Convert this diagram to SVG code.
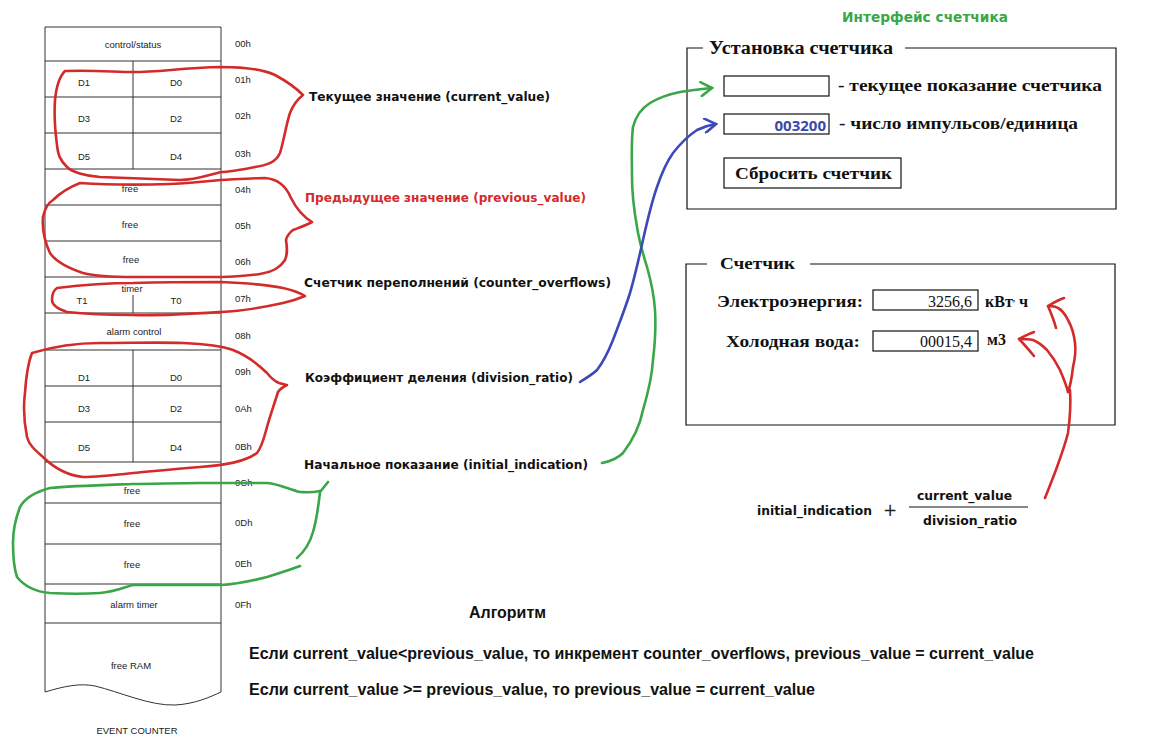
<svg xmlns="http://www.w3.org/2000/svg" width="1155" height="756" viewBox="0 0 1155 756">
<style>
.t{font-family:"Liberation Sans",Arial,sans-serif;font-size:9.5px;fill:#222}
.tc{text-anchor:middle}
.ln{stroke:#333;stroke-width:1;fill:none}
.lab{font-family:"DejaVu Sans","Open Sans",sans-serif;font-size:13px;font-weight:bold;fill:#111}
.ser{font-family:"Liberation Serif","Times New Roman",serif;font-size:16px;font-weight:bold;fill:#111}
.sern{font-family:"Liberation Serif","Times New Roman",serif;font-size:16px;fill:#111}
.box{fill:#fff;stroke:#111;stroke-width:1.2}
.alg{font-family:"Liberation Sans",Arial,sans-serif;font-size:16px;font-weight:bold;fill:#111}
.red{stroke:#d42a2a;stroke-width:2.6;fill:none;stroke-linecap:round;stroke-linejoin:round}
.grn{stroke:#3aa648;stroke-width:2.6;fill:none;stroke-linecap:round;stroke-linejoin:round}
.blu{stroke:#3f48b8;stroke-width:2.6;fill:none;stroke-linecap:round;stroke-linejoin:round}
</style>
<defs>
<marker id="ag" viewBox="0 0 16 16" refX="14" refY="8" markerWidth="16" markerHeight="16" markerUnits="userSpaceOnUse" orient="auto"><path d="M3,1 L14,8 L3,15" fill="none" stroke="#3aa648" stroke-width="2.6" stroke-linecap="round"/></marker>
<marker id="ab" viewBox="0 0 16 16" refX="14" refY="8" markerWidth="16" markerHeight="16" markerUnits="userSpaceOnUse" orient="auto"><path d="M3,1 L14,8 L3,15" fill="none" stroke="#3f48b8" stroke-width="2.6" stroke-linecap="round"/></marker>
</defs>
<rect width="1155" height="756" fill="#fff"/>

<g id="memory-map">
<path class="ln" d="M45,692 V27 H221 V692"/>
<path class="ln" d="M45,692 C65,686 80,683 95,686 C120,692 150,706 175,705 C195,704 210,697 221,692"/>
<path class="ln" d="M45,61 H221 M45,97 H221 M45,133 H221 M45,169 H221 M45,205 H221 M45,241 H221 M45,277 H221 M45,313 H221 M45,350 H221 M45,386 H221 M45,422 H221 M45,462 H221 M45,503 H221 M45,544 H221 M45,584 H221 M45,623 H221"/>
<path class="ln" d="M133,61 V169 M133,295 V313 M133,350 V462"/>
<text class="t tc" x="133" y="48">control/status</text>
<text class="t tc" x="84" y="86">D1</text><text class="t tc" x="176" y="86">D0</text>
<text class="t tc" x="84" y="122">D3</text><text class="t tc" x="176" y="122">D2</text>
<text class="t tc" x="84" y="160">D5</text><text class="t tc" x="176" y="160">D4</text>
<text class="t tc" x="130" y="192">free</text>
<text class="t tc" x="130" y="228">free</text>
<text class="t tc" x="131" y="263">free</text>
<text class="t tc" x="132" y="292">timer</text>
<text class="t tc" x="82" y="304">T1</text><text class="t tc" x="176" y="304">T0</text>
<text class="t tc" x="134" y="335">alarm control</text>
<text class="t tc" x="84" y="381">D1</text><text class="t tc" x="176" y="381">D0</text>
<text class="t tc" x="84" y="412">D3</text><text class="t tc" x="176" y="412">D2</text>
<text class="t tc" x="84" y="451">D5</text><text class="t tc" x="176" y="451">D4</text>
<text class="t tc" x="132" y="494">free</text>
<text class="t tc" x="132" y="527">free</text>
<text class="t tc" x="132" y="568">free</text>
<text class="t tc" x="134" y="608">alarm timer</text>
<text class="t tc" x="131" y="669">free RAM</text>
<text class="t tc" x="137" y="734">EVENT COUNTER</text>
<text class="t" x="235" y="47">00h</text>
<text class="t" x="235" y="83">01h</text>
<text class="t" x="235" y="119">02h</text>
<text class="t" x="235" y="157">03h</text>
<text class="t" x="235" y="193">04h</text>
<text class="t" x="235" y="229">05h</text>
<text class="t" x="235" y="265">06h</text>
<text class="t" x="235" y="302">07h</text>
<text class="t" x="235" y="339">08h</text>
<text class="t" x="235" y="375">09h</text>
<text class="t" x="235" y="412">0Ah</text>
<text class="t" x="235" y="450">0Bh</text>
<text class="t" x="235" y="486">0Ch</text>
<text class="t" x="235" y="526">0Dh</text>
<text class="t" x="235" y="567">0Eh</text>
<text class="t" x="235" y="608">0Fh</text>
</g>

<g id="field-labels">
<text id="lbl-current" class="lab" x="309" y="101" textLength="241" lengthAdjust="spacingAndGlyphs">Текущее значение (current_value)</text>
<text id="lbl-previous" class="lab" x="305" y="202" textLength="281" lengthAdjust="spacingAndGlyphs" style="fill:#d42a2a">Предыдущее значение (previous_value)</text>
<text id="lbl-overflows" class="lab" x="304" y="287" textLength="307" lengthAdjust="spacingAndGlyphs">Счетчик переполнений (counter_overflows)</text>
<text id="lbl-ratio" class="lab" x="305" y="382" textLength="268" lengthAdjust="spacingAndGlyphs">Коэффициент деления (division_ratio)</text>
<text id="lbl-initial" class="lab" x="304" y="469" textLength="284" lengthAdjust="spacingAndGlyphs">Начальное показание (initial_indication)</text>
</g>

<g id="title">
<text class="lab" x="842" y="22" textLength="166" lengthAdjust="spacingAndGlyphs" style="fill:#3aa648;font-size:14px">Интерфейс счетчика</text>
</g>

<g id="panel-setup">
<path d="M703,48 H687 V209 H1116 V48 H905" fill="none" stroke="#111" stroke-width="1.2"/>
<text class="ser" x="709" y="54" textLength="184" lengthAdjust="spacingAndGlyphs" style="font-size:18px">Установка счетчика</text>
<rect class="box" x="724" y="76" width="105" height="20"/>
<text class="ser" x="838" y="91" textLength="264" lengthAdjust="spacingAndGlyphs">- текущее показание  счетчика</text>
<rect class="box" x="724" y="114" width="105" height="20"/>
<text x="826" y="131" text-anchor="end" style="font-family:'Open Sans','Liberation Sans',sans-serif;font-size:15px;font-weight:bold;fill:#3a4aa8">003200</text>
<text class="ser" x="839" y="129" textLength="239" lengthAdjust="spacingAndGlyphs">- число импульсов/единица</text>
<rect class="box" x="724" y="158" width="177" height="30"/>
<text class="ser" x="735" y="179" textLength="157" lengthAdjust="spacingAndGlyphs">Сбросить  счетчик</text>
</g>

<g id="panel-counter">
<path d="M707,264 H686 V425 H1115 V264 H810" fill="none" stroke="#111" stroke-width="1.2"/>
<text class="ser" x="720" y="269" textLength="75" lengthAdjust="spacingAndGlyphs">Счетчик</text>
<text class="ser" x="717" y="307" textLength="146" lengthAdjust="spacingAndGlyphs">Электроэнергия:</text>
<rect class="box" x="873" y="290" width="105" height="20"/>
<text class="sern" x="972" y="307" text-anchor="end">3256,6</text>
<text class="ser" x="985" y="307">кВт<tspan font-size="9" dy="-6">,</tspan><tspan dy="6"> ч</tspan></text>
<text class="ser" x="726" y="347" textLength="134" lengthAdjust="spacingAndGlyphs">Холодная вода:</text>
<rect class="box" x="873" y="331" width="105" height="20"/>
<text class="sern" x="972" y="347" text-anchor="end">00015,4</text>
<text class="ser" x="987" y="345">м3</text>
</g>

<g id="formula">
<text class="lab" x="757" y="515" textLength="115" lengthAdjust="spacingAndGlyphs">initial_indication</text>
<text x="890" y="516" text-anchor="middle" style="font-family:'DejaVu Sans',sans-serif;font-size:17px;font-weight:normal;fill:#222">+</text>
<line x1="909" y1="507" x2="1028" y2="507" stroke="#111" stroke-width="1.2"/>
<text class="lab" x="917" y="500" textLength="95" lengthAdjust="spacingAndGlyphs">current_value</text>
<text class="lab" x="923" y="525" textLength="94" lengthAdjust="spacingAndGlyphs">division_ratio</text>
</g>

<g id="algorithm">
<text class="alg" x="469" y="618" textLength="77" lengthAdjust="spacingAndGlyphs">Алгоритм</text>
<text class="alg" x="249" y="659" textLength="785" lengthAdjust="spacingAndGlyphs">Если current_value&lt;previous_value, то инкремент counter_overflows, previous_value = current_value</text>
<text class="alg" x="249" y="695" textLength="566" lengthAdjust="spacingAndGlyphs">Если current_value &gt;= previous_value, то  previous_value = current_value</text>
</g>

<g id="connectors">
<path class="red" d="M65,71 C95,70 115,72 133,72 C160,72 180,68 221,67 C245,67 262,69 275,75 C288,82 298,90 303,95 C298,99 293,105 290,113 C286,125 284,140 280,153 C276,162 268,165 255,167 C240,170 230,172 221,172 C205,176 195,180 180,180 C150,179 120,178 100,177 C85,176 72,172 67,167 C60,160 58,155 57,145 C55,130 54,115 55,100 C56,90 58,78 65,71 Z"/>
<path class="red" d="M80,183 C110,185 140,185 170,184 C195,183 210,181 221,180 C240,179 255,178 265,178 C278,179 286,186 291,198 C296,208 302,216 312,222 C305,226 298,228 293,230 C289,233 287,236 286,240 C287,247 288,253 285,260 C280,268 273,272 260,274 C245,276 232,277 221,277 C190,277 160,277 133,277 C110,277 95,276 83,273 C68,268 56,262 50,253 C44,240 42,228 43,217 C45,208 48,203 53,200 C60,193 70,187 80,183 Z"/>
<path class="red" d="M57,288 C90,284 110,283 133,283 C170,282 200,282 221,282 C245,283 268,285 283,288 C292,290 300,293 305,296 C298,299 292,301 283,303 C265,307 243,311 221,312 C190,314 160,316 133,315 C105,315 85,314 67,312 C58,309 52,305 52,300 C52,294 54,290 57,288 Z"/>
<path class="red" d="M32,353 C55,346 80,343 100,343 C130,343 160,342 183,343 C205,344 222,346 233,350 C248,356 258,364 267,373 C271,378 274,381 279,383 C283,384 286,385 287,385 C283,387 280,389 278,392 C274,405 270,416 267,427 C264,438 262,447 257,453 C245,462 225,465 200,467 C175,469 155,471 133,473 C115,475 97,477 83,477 C65,475 52,466 43,457 C35,450 29,445 27,437 C24,422 23,408 25,393 C26,378 28,363 32,353 Z"/>
<path class="grn" d="M328,482 L320,492 C318,510 316,522 313,532 C310,543 305,551 297,558"/>
<path class="grn" d="M320,491 C310,493 305,492 300,492 C290,490 280,484 267,483 C245,483 220,483 200,483 C175,483 155,484 133,484 C105,485 70,486 50,488 C35,492 25,498 20,507 C15,520 13,530 13,543 C13,555 14,568 17,577 C25,587 38,592 50,593 C68,594 85,594 100,593 C115,592 125,587 133,585 C160,585 190,585 221,585 C240,584 255,580 267,577 C280,573 292,569 300,566"/>
<path class="grn" marker-end="url(#ag)" d="M602,463 C612,461 618,458 623,453 C633,440 640,425 643,410 C648,393 652,376 653,360 C655,343 656,326 655,310 C654,295 651,281 647,267 C643,254 639,240 637,227 C634,210 632,193 632,177 C632,160 631,143 633,127 C636,115 642,108 650,103 C660,97 670,94 680,92 C692,90 702,89 712,88"/>
<path class="blu" marker-end="url(#ab)" d="M580,382 C588,377 593,374 597,370 C604,361 609,350 613,340 C619,324 625,309 630,293 C635,276 639,258 643,240 C647,222 651,204 657,187 C661,175 666,163 673,153 C680,144 688,136 697,130 C703,127 709,125 716,124"/>
<path class="red" d="M1045,498 C1049,488 1053,478 1057,467 C1061,456 1065,445 1068,433 C1070,418 1071,404 1070,390"/>
<path class="red" d="M1068,392 C1071,384 1072,376 1073,367 C1075,359 1076,351 1075,343 C1074,334 1072,327 1068,320 C1065,314 1062,310 1058,308 C1055,306 1052,306 1048,306"/>
<path class="red" d="M1064,298 C1058,300 1053,303 1048,306 C1051,313 1054,320 1056,328"/>
<path class="red" d="M1068,392 C1066,384 1063,377 1060,370 C1056,362 1052,356 1047,350 C1042,345 1038,342 1033,340 C1028,339 1024,339 1019,339"/>
<path class="red" d="M1034,332 C1028,334 1023,337 1019,339 C1024,344 1029,350 1034,356"/>
</g>
</svg>
